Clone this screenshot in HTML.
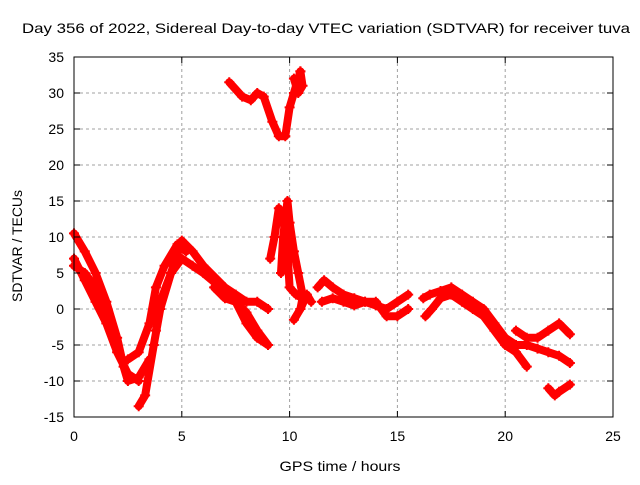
<!DOCTYPE html>
<html><head><meta charset="utf-8"><style>
body{margin:0;background:#fff;}
svg text{font-family:"Liberation Sans",sans-serif;font-size:14px;fill:#000;}
</style></head><body>
<svg id="chart" width="640" height="480" xmlns="http://www.w3.org/2000/svg">
<rect width="640" height="480" fill="#fff"/>
<text x="326" y="33" text-anchor="middle" textLength="608" lengthAdjust="spacingAndGlyphs">Day 356 of 2022, Sidereal Day-to-day VTEC variation (SDTVAR) for receiver tuva</text>
<text x="340" y="471" text-anchor="middle" textLength="121" lengthAdjust="spacingAndGlyphs">GPS time / hours</text>
<text transform="translate(22,246) rotate(-90)" text-anchor="middle" textLength="112" lengthAdjust="spacingAndGlyphs">SDTVAR / TECUs</text>
<g id="grid"></g>
<g id="marks"></g>
<rect x="74" y="57" width="539" height="360" fill="none" stroke="#000" stroke-width="1"/>
<g id="ticks"></g>
</svg>
<script>
const xTicks=[0,5,10,15,20,25];
const yTicks=[-15,-10,-5,0,5,10,15,20,25,30,35];
const traceTimes=[
[0,0.5,1,1.5,2,2.3,2.5,3,3.5],
[0,0.5,1,1.5,2,2.5,3],
[0,0.5,1,1.3,1.5],
[3,3.3,3.7,4,4.5,5,5.5,6,7,7.5,8,8.5,9],
[2.5,3,3.5,3.8,4.2,4.8,5.2],
[3.8,4,4.5,5,5.5,6,7,7.5,8,8.5,9],
[6.5,7,7.5,8,8.5,9],
[7.2,7.8,8.2,8.5,8.8,9.2,9.5,9.8,10,10.2,10.5],
[10.2,10.4,10.6,10.5],
[9.1,9.3,9.5,9.7,9.8,9.9,10,10.3,10.6,10.5],
[9.6,9.7,9.9,10,10.2,10.4,10.6],
[10.2,10.5,10.8,11],
[11.3,11.6,12,12.5,13,13.5,14,14.5,15,15.5],
[11.5,12,12.5,13,13.5,14,14.5,15,15.5],
[16.2,16.5,17,17.5,18,18.5,19,19.5,20,20.5,21,21.5,22,22.5,23],
[16.3,16.6,17,17.5,18,18.5,19,19.5,20,20.5,21],
[20.5,21,21.5,22,22.5,23],
[22,22.3,22.5,23]
];
const traceValues=[
[10.5,8,5,1,-4,-8,-10,-9.5,-7],
[7,4,1,-2,-6,-9,-10],
[6,5,3,0,-1],
[-13.5,-12,-5,0,5,9.5,8,6,3,2,1,1,0],
[-7,-6,-2,3,6,9,8],
[-3,1,5,7,6,5,2.5,1,-2,-4,-5],
[3,1.5,1,-0.5,-3,-5],
[31.5,29.5,29,30,29.5,26,24,24,28,30,33],
[32,30,31,33],
[7,10,14,13,10,8,3,2,1.5,0],
[5,10,15,12,8,5,2],
[-1.5,0,2,1],
[3,4,3,2,1.5,1,0.5,0,1,2],
[1,1.5,1,0.5,1,1,-1,-1,0],
[1.5,2,2.5,3,2,1,0,-2,-4,-5,-5,-5.5,-6,-6.5,-7.5],
[-1,0,1.5,2,1,0,-1,-3,-5,-6,-8],
[-3,-4,-4,-3,-2,-3.5],
[-11,-12,-11.5,-10.5]
];
const NS="http://www.w3.org/2000/svg";
const xS=t=>74+t*(539/25);
const yS=v=>309-v*7.2;
const grid=document.getElementById('grid'),ticks=document.getElementById('ticks'),marks=document.getElementById('marks');
function mk(tag,attrs,parent){const e=document.createElementNS(NS,tag);for(const k in attrs)e.setAttribute(k,attrs[k]);parent.appendChild(e);return e;}
xTicks.forEach(t=>{const x=xS(t);
 if(t>0&&t<25){const g=mk('line',{x1:x,x2:x,y1:57,y2:417,stroke:'#a0a0a0','stroke-dasharray':'3,3'},grid);
 
 }
 const tk=mk('path',{d:`M${x},417v-6M${x},57v6`,stroke:'#000'},ticks);
 
 
 const l=mk('text',{x:x,y:441,'text-anchor':'middle'},ticks);l.textContent=t;
 
 
});
yTicks.forEach(v=>{const y=yS(v);
 if(v>-15&&v<35){const g=mk('line',{x1:74,x2:613,y1:y,y2:y,stroke:'#a0a0a0','stroke-dasharray':'3,3'},grid);
 
 }
 const tk=mk('path',{d:`M74,${y}h6M613,${y}h-6`,stroke:'#000'},ticks);
 
 
 const l=mk('text',{x:64,y:y+5,'text-anchor':'end'},ticks);l.textContent=v;
 
 
});
traceTimes.forEach((ts,i)=>{
 const vs=traceValues[i];
 const pts=ts.map((t,j)=>xS(t)+','+yS(vs[j])).join(' ');
 const pl=mk('polyline',{points:pts,fill:'none',stroke:'#f00','stroke-width':8,'stroke-linejoin':'round','stroke-linecap':'round'},marks);
 
 
 ts.forEach((t,j)=>{const x=xS(t),y=yS(vs[j]);
  const p=mk('path',{d:`M${x-5},${y}h10M${x},${y-5}v10`,stroke:'#f00','stroke-width':2},marks);
  
  
 });
});
</script>
</body></html>
